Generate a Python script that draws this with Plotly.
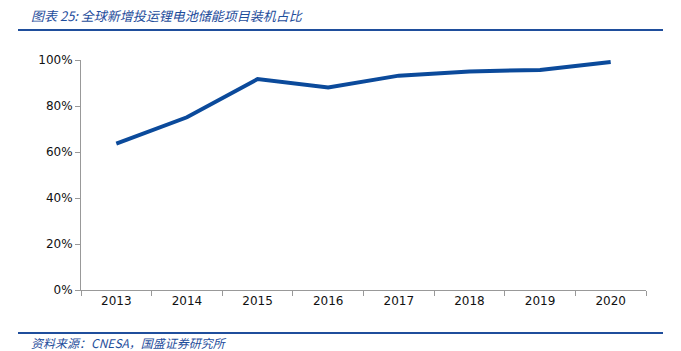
import plotly.graph_objects as go

years = ["2013", "2014", "2015", "2016", "2017", "2018", "2019", "2020"]
share = [0.636, 0.751, 0.917, 0.881, 0.932, 0.950, 0.957, 0.991]
y_ticks = [0, 0.2, 0.4, 0.6, 0.8, 1.0]
y_tick_text = ["0%", "20%", "40%", "60%", "80%", "100%"]
title_text = "图表 25: 全球新增投运锂电池储能项目装机占比"
source_text = "资料来源：CNESA，国盛证券研究所"

W, H = 681, 351
L, R, T, B = 81, 35, 60, 61
pw, ph = W - L - R, H - T - B

def px_x(x):
    return (x - L) / pw

def px_y(y):
    return (H - B - y) / ph

blue = "#0b4a9b"
hdr = "#1f4e9c"

fig = go.Figure(go.Scatter(
    x=years, y=share, mode="lines",
    line=dict(color=blue, width=4), hoverinfo="skip",
))

fig.update_layout(
    width=W, height=H,
    margin=dict(l=L, r=R, t=T, b=B),
    paper_bgcolor="white", plot_bgcolor="white",
    showlegend=False,
    font=dict(family="DejaVu Sans", size=12, color="#111"),
    xaxis=dict(
        type="category", tickson="boundaries", ticks="outside", ticklen=5,
        tickcolor="#999", showline=True, linecolor="#999", linewidth=1,
        showgrid=False, zeroline=False, tickfont=dict(size=12, color="#111"),
        range=[-0.5, 7.5],
    ),
    yaxis=dict(
        range=[0, 1], tickvals=y_ticks, ticktext=y_tick_text,
        ticks="outside", ticklen=5, tickcolor="#999",
        showline=True, linecolor="#999", linewidth=1,
        showgrid=False, zeroline=False, tickfont=dict(size=12, color="#111"),
    ),
    shapes=[
        dict(type="line", xref="paper", yref="paper",
             x0=px_x(18), x1=px_x(663), y0=px_y(30), y1=px_y(30),
             line=dict(color=hdr, width=2)),
        dict(type="line", xref="paper", yref="paper",
             x0=px_x(18), x1=px_x(663), y0=px_y(333), y1=px_y(333),
             line=dict(color=hdr, width=2)),
    ],
    annotations=[
        dict(text="<i>" + title_text + "</i>", xref="paper", yref="paper",
             x=px_x(29), y=px_y(15), xanchor="left", yanchor="middle",
             showarrow=False,
             font=dict(family="Noto Sans CJK SC", size=13, color=hdr)),
        dict(text="<i>" + source_text + "</i>", xref="paper", yref="paper",
             x=px_x(29), y=px_y(342), xanchor="left", yanchor="middle",
             showarrow=False,
             font=dict(family="Noto Sans CJK SC", size=12, color=hdr)),
    ],
)

fig.write_html("out.html")
